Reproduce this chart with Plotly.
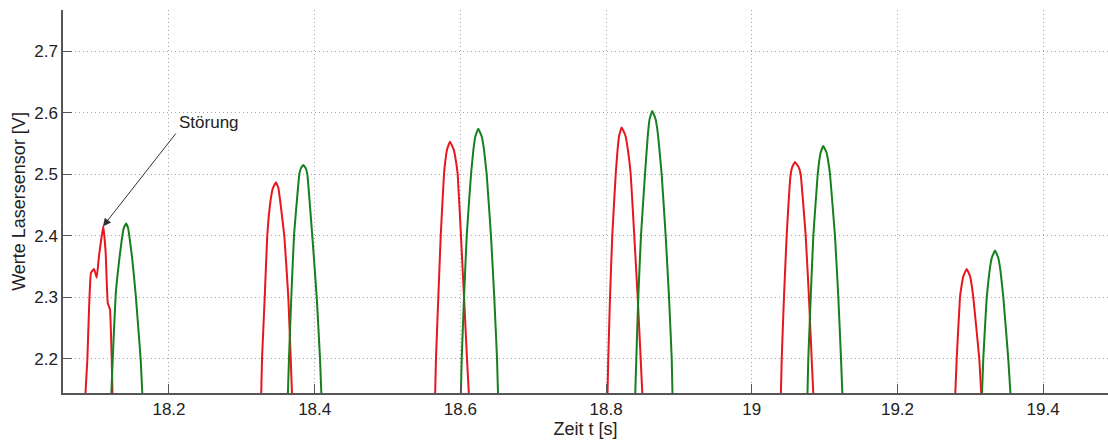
import plotly.graph_objects as go

# Red signal (Lasersensor 1), humps separated by None
red_t = [18.0847, 18.0879, 18.0902, 18.0929, 18.0971, 18.1008, 18.1039, 18.1098, 18.1131, 18.1159, 18.1190, 18.1214, 18.1227, None,
         18.3263, 18.3277, 18.3314, 18.3349, 18.3396, 18.3428, 18.3469, 18.3501, 18.3524, 18.3583, 18.3638, 18.3671, 18.3693, None,
         18.5651, 18.5665, 18.5697, 18.5730, 18.5775, 18.5794, 18.5816, 18.5857, 18.5909, 18.5938, 18.5963, 18.6008, 18.6050, 18.6091, 18.6122, None,
         18.8017, 18.8030, 18.8054, 18.8085, 18.8132, 18.8158, 18.8180, 18.8214, 18.8265, 18.8299, 18.8338, 18.8387, 18.8434, 18.8475, 18.8503, None,
         19.0397, 19.0411, 19.0442, 19.0479, 19.0534, 19.0556, 19.0593, 19.0642, 19.0671, 19.0740, 19.0785, 19.0822, 19.0850, None,
         19.2789, 19.2813, 19.2858, 19.2879, 19.2903, 19.2950, 19.2997, 19.3021, 19.3041, 19.3123, 19.3156]
red_v = [2.130, 2.198, 2.280, 2.340, 2.346, 2.332, 2.367, 2.416, 2.372, 2.291, 2.280, 2.198, 2.130, None,
         2.130, 2.200, 2.300, 2.400, 2.459, 2.478, 2.487, 2.478, 2.459, 2.400, 2.300, 2.200, 2.130, None,
         2.130, 2.200, 2.300, 2.400, 2.500, 2.522, 2.540, 2.553, 2.540, 2.522, 2.500, 2.400, 2.300, 2.200, 2.130, None,
         2.130, 2.200, 2.300, 2.400, 2.500, 2.540, 2.563, 2.576, 2.563, 2.540, 2.500, 2.400, 2.300, 2.200, 2.130, None,
         2.130, 2.200, 2.300, 2.400, 2.500, 2.512, 2.520, 2.512, 2.500, 2.400, 2.300, 2.200, 2.130, None,
         2.130, 2.200, 2.300, 2.318, 2.334, 2.346, 2.334, 2.318, 2.300, 2.200, 2.130]

# Green signal (Lasersensor 2)
green_t = [18.1204, 18.1227, 18.1268, 18.1318, 18.1359, 18.1380, 18.1410, 18.1438, 18.1455, 18.1496, 18.1543, 18.1612, 18.1639, None,
           18.3629, 18.3647, 18.3679, 18.3716, 18.3789, 18.3812, 18.3844, 18.3876, 18.3899, 18.3967, 18.4028, 18.4073, 18.4096, None,
           18.6004, 18.6018, 18.6050, 18.6087, 18.6146, 18.6179, 18.6204, 18.6246, 18.6294, 18.6324, 18.6361, 18.6420, 18.6465, 18.6503, 18.6520, None,
           18.8397, 18.8415, 18.8442, 18.8479, 18.8534, 18.8574, 18.8598, 18.8634, 18.8679, 18.8712, 18.8763, 18.8818, 18.8864, 18.8901, 18.8914, None,
           19.0762, 19.0776, 19.0809, 19.0845, 19.0905, 19.0924, 19.0945, 19.0982, 19.1027, 19.1051, 19.1074, 19.1142, 19.1188, 19.1225, 19.1248, None,
           19.3156, 19.3178, 19.3225, 19.3264, 19.3294, 19.3339, 19.3384, 19.3414, 19.3453, 19.3521, 19.3558]
green_v = [2.130, 2.198, 2.304, 2.362, 2.400, 2.413, 2.420, 2.413, 2.400, 2.362, 2.304, 2.198, 2.130, None,
           2.130, 2.200, 2.300, 2.400, 2.500, 2.510, 2.515, 2.510, 2.500, 2.400, 2.300, 2.200, 2.130, None,
           2.130, 2.200, 2.300, 2.400, 2.500, 2.540, 2.561, 2.574, 2.561, 2.540, 2.500, 2.400, 2.300, 2.200, 2.130, None,
           2.130, 2.200, 2.300, 2.400, 2.500, 2.565, 2.590, 2.603, 2.590, 2.565, 2.500, 2.400, 2.300, 2.200, 2.130, None,
           2.130, 2.200, 2.300, 2.400, 2.500, 2.520, 2.535, 2.546, 2.535, 2.520, 2.500, 2.400, 2.300, 2.200, 2.130, None,
           2.130, 2.200, 2.300, 2.343, 2.364, 2.376, 2.364, 2.343, 2.300, 2.200, 2.130]

x_tickvals = [18.2, 18.4, 18.6, 18.8, 19.0, 19.2, 19.4]
x_ticktext = ["18.2", "18.4", "18.6", "18.8", "19", "19.2", "19.4"]
y_tickvals = [2.2, 2.3, 2.4, 2.5, 2.6, 2.7]
y_ticktext = ["2.2", "2.3", "2.4", "2.5", "2.6", "2.7"]

x_range = [18.0545, 19.489]
y_range = [2.1445, 2.767]

# annotation anchor values
dist_tip = (18.1094, 2.4153)
dist_tail = (18.2110, 2.5687)
dist_label = (18.2549, 2.5834)

FONT = "Liberation Sans, Arial, sans-serif"

fig = go.Figure()
fig.add_trace(go.Scatter(x=red_t, y=red_v, mode="lines",
                         line=dict(color="#e8161e", width=2, shape="spline", smoothing=0.3),
                         connectgaps=False, showlegend=False))
fig.add_trace(go.Scatter(x=green_t, y=green_v, mode="lines",
                         line=dict(color="#15801c", width=2, shape="spline", smoothing=0.3),
                         connectgaps=False, showlegend=False))

fig.add_annotation(x=dist_tip[0], y=dist_tip[1], ax=dist_tail[0], ay=dist_tail[1],
                   xref="x", yref="y", axref="x", ayref="y", text="",
                   showarrow=True, arrowhead=2, arrowsize=1.6, arrowwidth=1, arrowcolor="#333333")
fig.add_annotation(x=dist_label[0], y=dist_label[1], xref="x", yref="y", text="Störung",
                   showarrow=False, font=dict(family=FONT, size=17, color="#222222"))

grid = dict(showgrid=True, gridcolor="#a8a8a8", griddash="1px,3px", gridwidth=1,
            zeroline=False, showline=True, linecolor="#555555", linewidth=1.5,
            ticks="inside", ticklen=9, tickcolor="#555555", automargin=False)

fig.update_layout(
    width=1108, height=440,
    margin=dict(l=63, r=0, t=10, b=47),
    paper_bgcolor="white", plot_bgcolor="white",
    font=dict(family=FONT, size=17, color="#222222"),
    xaxis=dict(range=x_range, tickvals=x_tickvals, ticktext=x_ticktext,
               title=dict(text="Zeit t [s]", standoff=4, font=dict(size=18)), **grid),
    yaxis=dict(range=y_range, tickvals=y_tickvals, ticktext=y_ticktext,
               title=dict(text="Werte Lasersensor [V]", standoff=4, font=dict(size=18)), **grid),
)

fig.write_html("out.html", config={"displayModeBar": False},
               post_script="document.body.style.margin='0';document.body.style.overflow='hidden';")
